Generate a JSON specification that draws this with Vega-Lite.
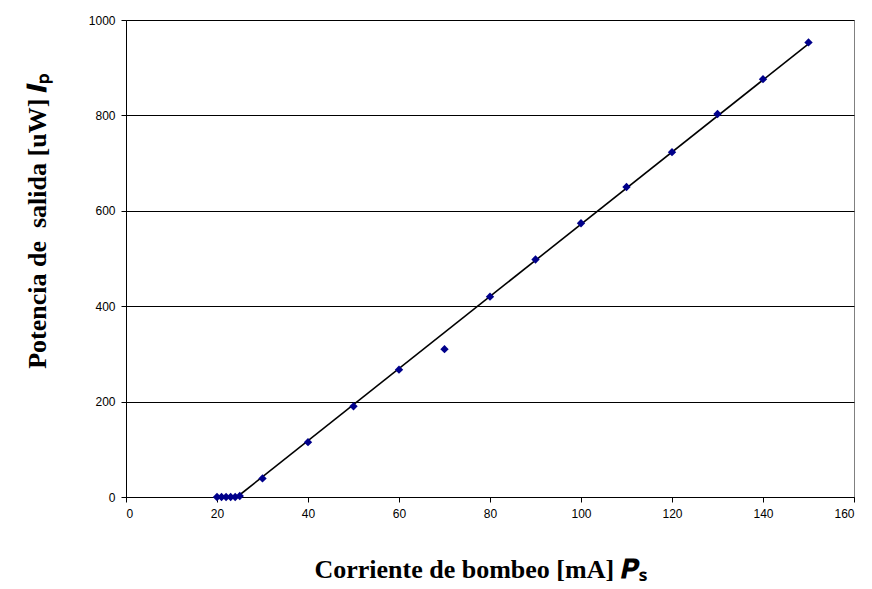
{
  "$schema": "https://vega.github.io/schema/vega-lite/v6.json",
  "width": 728,
  "height": 477,
  "autosize": "none",
  "padding": {"left": 126, "top": 20, "right": 18, "bottom": 92},
  "background": "white",
  "config": {
    "view": {"stroke": "#808080", "strokeWidth": 1},
    "axis": {
      "labelFont": "Liberation Sans",
      "labelFontSize": 12,
      "labelColor": "#000000",
      "tickColor": "#000000",
      "domainColor": "#000000",
      "titleFont": "Liberation Serif",
      "titleFontWeight": "bold",
      "titleFontSize": 26,
      "titleColor": "#000000"
    }
  },
  "datasets": {
    "pts": [
      {"x": 20, "y": 0}, {"x": 21, "y": 0}, {"x": 22, "y": 0}, {"x": 23, "y": 0},
      {"x": 24, "y": 0}, {"x": 25, "y": 2},
      {"x": 30, "y": 39}, {"x": 40, "y": 115}, {"x": 50, "y": 190},
      {"x": 60, "y": 267}, {"x": 70, "y": 310}, {"x": 80, "y": 420},
      {"x": 90, "y": 498}, {"x": 100, "y": 574}, {"x": 110, "y": 650},
      {"x": 120, "y": 723}, {"x": 130, "y": 803}, {"x": 140, "y": 876},
      {"x": 150, "y": 953}
    ],
    "fit": [
      {"x": 24.4, "y": 0},
      {"x": 150, "y": 950}
    ]
  },
  "layer": [
    {
      "data": {"name": "fit"},
      "mark": {"type": "line", "color": "#000000", "strokeWidth": 1.6},
      "encoding": {
        "x": {
          "field": "x", "type": "quantitative",
          "scale": {"domain": [0, 160], "nice": false},
          "axis": {
            "values": [0, 20, 40, 60, 80, 100, 120, 140, 160],
            "grid": false, "tickSize": 5, "labelPadding": 6,
            "title": "Corriente de bombeo [mA] 𝑷ₛ",
            "titleX": 354, "titleY": 80, "titleBaseline": "alphabetic", "titleAnchor": "middle"
          }
        },
        "y": {
          "field": "y", "type": "quantitative",
          "scale": {"domain": [0, 1000], "nice": false},
          "axis": {
            "values": [0, 200, 400, 600, 800, 1000],
            "format": "d",
            "grid": true, "gridColor": "#000000", "gridWidth": 1,
            "tickSize": 5, "labelPadding": 6,
            "title": "Potencia de\u00a0 salida [uW] 𝑰ₚ",
            "titleX": -81, "titleY": 201, "titleAngle": -90,
            "titleBaseline": "alphabetic", "titleAnchor": "middle"
          }
        }
      }
    },
    {
      "data": {"name": "pts"},
      "mark": {"type": "point", "shape": "diamond", "filled": true, "color": "#00008B", "size": 70, "opacity": 1},
      "encoding": {
        "x": {"field": "x", "type": "quantitative"},
        "y": {"field": "y", "type": "quantitative"}
      }
    }
  ]
}
